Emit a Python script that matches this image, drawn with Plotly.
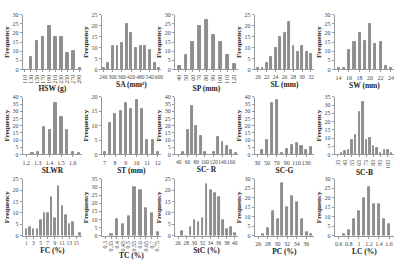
import plotly.graph_objects as go

# ---- data ----
hsw_x = [110, 130, 150, 170, 190, 210, 230, 250, 270, 290]
hsw_y = [0, 7, 16, 18, 24, 18, 18, 9, 10, 1]
sa_x = [240, 270, 300, 330, 360, 390, 420, 450, 480, 510, 540, 570, 600]
sa_y = [1, 3, 11, 11, 12, 21, 17, 10, 11, 11, 9, 3, 1]
sp_x = [40, 50, 60, 70, 80, 90, 100, 110, 120]
sp_y = [2, 8, 15, 24, 27, 19, 15, 8, 3]
sl_x = [20, 21, 22, 23, 24, 25, 26, 27, 28, 29, 30, 31, 32]
sl_y = [1, 1, 3, 6, 10, 15, 17, 22, 11, 8, 11, 8, 7]
sw_x = [14, 15, 16, 17, 18, 19, 20, 21, 22, 23, 24]
sw_y = [1, 1, 11, 15, 20, 16, 25, 14, 15, 2, 1]
slwr_x = [1.25, 1.3, 1.35, 1.4, 1.45, 1.5, 1.55, 1.6, 1.65]
slwr_y = [1, 2, 19, 17, 36, 26, 17, 2, 1]
st_x = [7, 7.5, 8, 8.5, 9, 9.5, 10, 10.5, 11, 11.5, 12]
st_y = [1, 11, 14, 15, 18, 16, 19, 16, 5, 5, 1]
scr_x = [50, 60, 70, 80, 90, 100, 110, 120, 130, 140, 150, 160, 170]
scr_y = [2, 17, 34, 20, 13, 2, 0, 2, 12, 9, 6, 3, 1]
scg_x = [40, 50, 60, 70, 80, 90, 100, 110, 120, 130, 140]
scg_y = [3, 10, 36, 38, 1, 4, 7, 8, 6, 3, 5]
scb_x = [40, 45, 50, 55, 60, 65, 70, 75, 80, 85, 90, 95, 100, 105, 110]
scb_y = [1, 2, 3, 9, 12, 26, 32, 9, 10, 5, 4, 1, 3, 3, 1]
fc_x = [1, 2, 3, 4, 5, 6, 7, 8, 9, 10, 11, 12, 13, 14, 15, 16]
fc_y = [3, 4, 3, 3, 7, 10, 10, 17, 8, 22, 13, 9, 5, 6, 0, 1]
tc_x = [0.35, 0.4, 0.45, 0.5, 0.55, 0.6, 0.65, 0.7, 0.75]
tc_y = [1, 10, 7, 12, 30, 28, 17, 14, 2]
stc_x = [27, 28, 29, 30, 31, 32, 33, 34, 35, 36, 37, 38, 39, 40]
stc_y = [2, 0, 4, 7, 6, 8, 23, 20, 19, 17, 7, 3, 4, 1]
pc_x = [27, 28, 29, 30, 31, 32, 33, 34, 35, 36, 37]
pc_y = [1, 4, 13, 9, 28, 15, 21, 18, 9, 2, 1]
lc_x = [0.7, 0.8, 0.9, 1.0, 1.1, 1.2, 1.3, 1.4, 1.5, 1.6]
lc_y = [1, 3, 9, 13, 20, 26, 17, 17, 9, 6]

titles = ["HSW (g)", "SA (mm²)", "SP (mm)", "SL (mm)", "SW (mm)",
          "SLWR", "ST (mm)", "SC- R", "SC-G", "SC-B",
          "FC (%)", "TC (%)", "StC (%)", "PC (%)", "LC (%)"]

# ---- per-panel layout settings ----
panels = [
    (hsw_x, hsw_y, 20, [104, 298], list(range(110, 291, 20)), 30, 5, -90),
    (sa_x, sa_y, 30, [230, 613], list(range(240, 601, 60)), 25, 5, 0),
    (sp_x, sp_y, 10, [34, 126], list(range(40, 121, 10)), 30, 5, -90),
    (sl_x, sl_y, 1, [19.3, 32.7], list(range(20, 33, 2)), 25, 5, 0),
    (sw_x, sw_y, 1, [13.3, 24.6], list(range(14, 25, 2)), 30, 5, 0),
    (slwr_x, slwr_y, 0.05, [1.17, 1.68], [1.2, 1.3, 1.4, 1.5, 1.6], 40, 5, 0),
    (st_x, st_y, 0.5, [6.75, 12.3], list(range(7, 13)), 20, 5, 0),
    (scr_x, scr_y, 10, [31, 176], list(range(40, 161, 20)), 40, 5, 0),
    (scg_x, scg_y, 10, [25, 146], list(range(30, 131, 20)), 40, 5, 0),
    (scb_x, scb_y, 5, [31, 114], list(range(35, 106, 10)), 35, 5, -90),
    (fc_x, fc_y, 1, [0, 16.6], list(range(1, 16, 2)), 25, 5, 0),
    (tc_x, tc_y, 0.05, [0.27, 0.78], [0.3, 0.35, 0.4, 0.45, 0.5, 0.55, 0.6, 0.65, 0.7, 0.75], 35, 5, -90),
    (stc_x, stc_y, 1, [25.2, 40.8], list(range(26, 41, 2)), 25, 5, 0),
    (pc_x, pc_y, 1, [25.3, 37.6], list(range(26, 37, 2)), 30, 5, 0),
    (lc_x, lc_y, 0.1, [0.52, 1.7], [0.6, 0.8, 1.0, 1.2, 1.4, 1.6], 30, 5, 0),
]

W, H = 400, 264
col_px = [(20, 80), (100, 160), (174, 238), (255, 315), (336, 396)]
row_px = [(12, 68), (96, 155), (180, 238)]

FONT = "Liberation Serif, Times New Roman, serif"
fig = go.Figure()
layout = dict(
    width=W, height=H, margin=dict(l=0, r=0, t=0, b=0),
    paper_bgcolor="white", plot_bgcolor="white", showlegend=False,
    font=dict(family=FONT, size=6, color="#333"),
    bargap=0,
)

for i, (xs, ys, step, xr, tv, ymax, ystep, rot) in enumerate(panels):
    r, c = divmod(i, 5)
    n = "" if i == 0 else str(i + 1)
    xa, ya = "x" + n, "y" + n
    fig.add_trace(go.Bar(
        x=xs, y=ys, xaxis=xa, yaxis=ya, width=step * 0.42,
        marker=dict(color="#8f8f8f", line=dict(color="#5a5a5a", width=0.5)),
        hoverinfo="skip",
    ))
    x0, x1 = col_px[c]
    y0, y1 = row_px[r]
    ttext = [("%g" % v) for v in tv]
    tsize = 5.5 if len(tv) > 6 and rot == 0 else 6
    layout["xaxis" + n] = dict(
        domain=[x0 / W, x1 / W], anchor=ya, range=xr,
        tickvals=tv, ticktext=ttext, tickangle=rot,
        showline=True, linecolor="#999", linewidth=1,
        ticks="outside", ticklen=2, tickcolor="#999",
        showgrid=False, zeroline=False,
        tickfont=dict(size=tsize, family=FONT, color="#444"),
        title=dict(text="<b>" + titles[i] + "</b>", standoff=1,
                   font=dict(size=7.5, family=FONT, color="#222")),
    )
    layout["yaxis" + n] = dict(
        domain=[1 - y1 / H, 1 - y0 / H], anchor=xa, range=[0, ymax],
        dtick=ystep, tick0=0,
        showline=True, linecolor="#999", linewidth=1,
        ticks="outside", ticklen=2, tickcolor="#999",
        showgrid=False, zeroline=False,
        tickfont=dict(size=6, family=FONT, color="#444"),
        title=dict(text="<b>Frequency</b>", standoff=2,
                   font=dict(size=7, family=FONT, color="#222")),
    )

fig.update_layout(**layout)
fig.write_html("out.html", config={"displayModeBar": False},
               post_script="document.body.style.margin='0';document.body.style.padding='0';")
